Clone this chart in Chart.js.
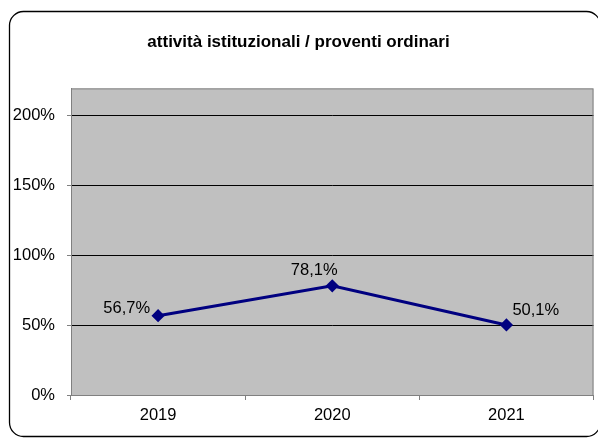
<!DOCTYPE html>
<html>
<head>
<meta charset="utf-8">
<script src="https://cdn.jsdelivr.net/npm/chart.js@4/dist/chart.umd.min.js"></script>
<style>
    html, body { margin: 0; padding: 0; background: #ffffff; overflow: hidden; }
</style>
</head>
<body>
<canvas id="chart" width="601" height="439"></canvas>
<script>
var years = ['2019', '2020', '2021'];
var ratioValues = [56.7, 78.1, 50.1];
var ratioLabels = ['56,7%', '78,1%', '50,1%'];
var yTicks = [0, 50, 100, 150, 200];
var chartTitle = 'attività istituzionali / proventi ordinari';

var fontFamily = "'Liberation Sans', Arial, sans-serif";

// sfondo, cornice arrotondata e area grigia
var framePlugin = {
    id: 'frame',
    beforeDraw: function (chart) {
        var ctx = chart.ctx;
        var a = chart.chartArea;
        ctx.save();
        ctx.fillStyle = '#ffffff';
        ctx.fillRect(0, 0, chart.width, chart.height);

        ctx.strokeStyle = '#000000';
        ctx.lineWidth = 1.3;
        ctx.beginPath();
        ctx.roundRect(9.5, 11.5, 591, 425, 14);
        ctx.stroke();

        ctx.fillStyle = '#c0c0c0';
        ctx.fillRect(a.left, a.top, a.right - a.left, a.bottom - a.top);
        ctx.restore();
    },
    beforeDatasetsDraw: function (chart) {
        var ctx = chart.ctx;
        var a = chart.chartArea;
        ctx.save();
        ctx.strokeStyle = '#808080';
        ctx.lineWidth = 1;
        ctx.strokeRect(a.left + 0.5, a.top + 0.5, a.right - a.left - 1, a.bottom - a.top);
        ctx.restore();
    }
};

// etichette dei valori
var valueLabelPlugin = {
    id: 'valueLabels',
    afterDatasetsDraw: function (chart) {
        var ctx = chart.ctx;
        var meta = chart.getDatasetMeta(0);
        // posizione delle etichette rispetto al punto
        var place = [
            { align: 'right', dx: -8, dy: -7 },
            { align: 'center', dx: -18, dy: -15 },
            { align: 'left', dx: 6, dy: -15 }
        ];
        ctx.save();
        ctx.font = '16.5px ' + fontFamily;
        ctx.fillStyle = '#000000';
        ctx.textBaseline = 'middle';
        meta.data.forEach(function (pt, i) {
            ctx.textAlign = place[i].align;
            ctx.fillText(ratioLabels[i], pt.x + place[i].dx, pt.y + place[i].dy);
        });
        ctx.restore();
    }
};

var ctx = document.getElementById('chart');
var myChart = new Chart(ctx, {
    type: 'line',
    data: {
        labels: years,
        datasets: [{
            label: chartTitle,
            data: ratioValues,
            borderColor: '#000080',
            backgroundColor: '#000080',
            borderWidth: 3,
            pointStyle: 'rectRot',
            pointRadius: 4.5,
            pointHoverRadius: 4.5,
            tension: 0
        }]
    },
    options: {
        responsive: false,
        animation: false,
        devicePixelRatio: 1,
        layout: {
            padding: { top: 0, left: 0, right: 4, bottom: 0 }
        },
        plugins: {
            legend: { display: false },
            tooltip: { enabled: false },
            title: {
                display: true,
                text: chartTitle,
                color: '#000000',
                font: { family: fontFamily, size: 17, weight: 'bold' },
                padding: { top: 32, bottom: 36 }
            }
        },
        scales: {
            x: {
                offset: true,
                grid: {
                    offset: true,
                    drawOnChartArea: false,
                    color: '#808080',
                    tickLength: 5
                },
                border: { color: '#808080' },
                ticks: {
                    color: '#000000',
                    padding: 6,
                    font: { family: fontFamily, size: 16.5 }
                },
                afterFit: function (scale) {
                    scale.height = 44;
                }
            },
            y: {
                min: 0,
                max: 219.3,
                afterBuildTicks: function (scale) {
                    scale.ticks = yTicks.map(function (v) { return { value: v }; });
                },
                grid: {
                    color: function (c) {
                        return c.tick && c.tick.value === 0 ? '#808080' : '#000000';
                    },
                    tickColor: '#808080',
                    tickLength: 4
                },
                border: { color: '#808080' },
                ticks: {
                    color: '#000000',
                    padding: 12,
                    font: { family: fontFamily, size: 16.5 },
                    callback: function (value) {
                        return value + '%';
                    }
                },
                afterFit: function (scale) {
                    scale.width = 71;
                }
            }
        }
    },
    plugins: [framePlugin, valueLabelPlugin]
});
</script>
</body>
</html>
